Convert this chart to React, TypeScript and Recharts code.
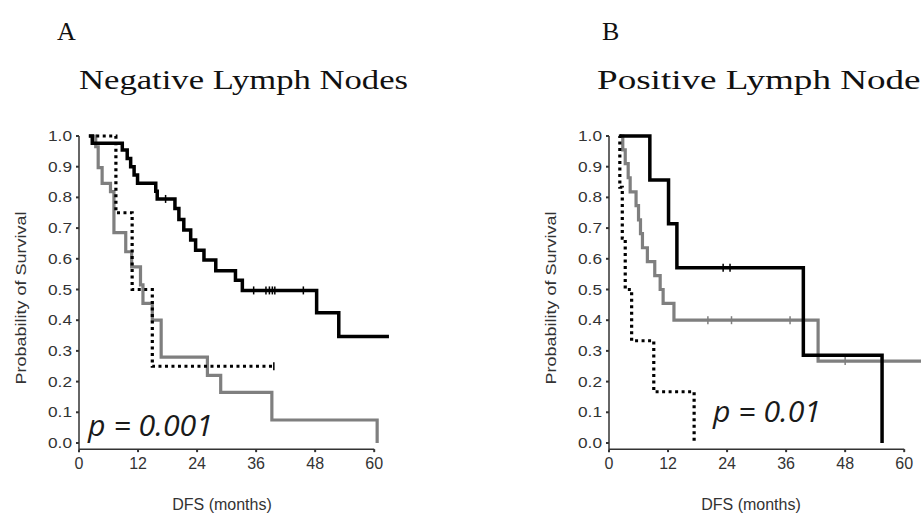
import React from "react";
import {
  ComposedChart,
  Line,
  Scatter,
  XAxis,
  YAxis,
  ReferenceLine,
} from "recharts";

type Pt = [number, number];

// Kaplan-Meier steps: [month, survival]
// Panel A - negative lymph nodes
const negBlack: Pt[] = [
  [2.0, 1.0], [2.7, 0.976], [8.8, 0.954], [9.8, 0.927], [10.5, 0.9], [11.2, 0.873],
  [11.9, 0.846], [15.6, 0.82], [15.9, 0.795], [19.5, 0.764], [20.3, 0.728], [21.3, 0.694],
  [22.7, 0.661], [23.7, 0.628], [25.4, 0.596], [27.8, 0.561], [31.8, 0.53], [33.2, 0.497],
  [48.3, 0.424], [52.8, 0.347], [63.0, 0.347],
];
const negBlackCensor: Pt[] = [
  [17.6, 0.795], [35.5, 0.497], [38.0, 0.497], [38.7, 0.497], [39.3, 0.497], [39.8, 0.497], [45.6, 0.497],
];
const negGray: Pt[] = [
  [2.0, 1.0], [3.4, 0.965], [3.9, 0.897], [4.7, 0.846], [6.4, 0.819], [7.1, 0.685],
  [9.5, 0.623], [10.7, 0.574], [12.5, 0.515], [13.0, 0.455], [14.9, 0.4], [16.7, 0.28],
  [26.1, 0.22], [28.8, 0.165], [39.2, 0.075], [60.6, 0],
];
const negDotted: Pt[] = [
  [3.5, 1.0], [7.5, 0.75], [10.8, 0.5], [14.9, 0.25], [39.6, 0.25],
];
const negDottedCensor: Pt[] = [[39.6, 0.25]];

// Panel B - positive lymph nodes
const posBlack: Pt[] = [
  [2.2, 1.0], [8.3, 0.857], [12.1, 0.714], [13.8, 0.571], [39.5, 0.286], [55.5, 0],
];
const posBlackCensor: Pt[] = [[23.2, 0.571], [24.6, 0.571]];
const posGray: Pt[] = [
  [2.2, 1.0], [2.8, 0.955], [3.3, 0.91], [3.9, 0.864], [4.3, 0.818], [5.5, 0.773],
  [6.0, 0.727], [6.4, 0.682], [6.8, 0.636], [7.8, 0.591], [9.3, 0.545], [10.4, 0.5],
  [11.0, 0.455], [13.2, 0.4], [42.5, 0.267], [64.0, 0.267],
];
const posGrayCensor: Pt[] = [[20.1, 0.4], [24.9, 0.4], [36.8, 0.4], [48.0, 0.267]];
const posDotted: Pt[] = [
  [2.0, 1.0], [2.2, 0.833], [2.7, 0.667], [3.3, 0.5], [4.6, 0.333], [9.1, 0.167], [17.3, 0],
];

const monthTicks = [0, 12, 24, 36, 48, 60];
const survTicks = [0, 0.1, 0.2, 0.3, 0.4, 0.5, 0.6, 0.7, 0.8, 0.9, 1.0];

const BLACK = "#000000";
const GRAY = "#7f7f7f";
const AXIS = "#333333";
const SANS = "'Liberation Sans', Arial, sans-serif";
const SERIF = "'Liberation Serif', 'Times New Roman', serif";

const PX_PER_MONTH = 4.92;
const PX_PER_UNIT = 307;
const Y_MIN = -0.02;
const PLOT_TOP = 136;
const CHART_W = 400;
const CHART_H = 515;

const rows = (pts: Pt[]) => pts.map(([t, s]) => ({ t, s }));

const censorShape = (color: string) => (props: any) => {
  const { cx, cy } = props;
  return <line x1={cx} x2={cx} y1={cy - 4} y2={cy + 4} stroke={color} strokeWidth={1.5} />;
};

const YTick = (props: any) => {
  const { x, y, payload } = props;
  return (
    <text x={x} y={y} dy="0.36em" textAnchor="end" fontFamily={SANS} fontSize={14} fill={AXIS}
      textLength={24} lengthAdjust="spacingAndGlyphs">
      {Number(payload.value).toFixed(1)}
    </text>
  );
};

interface PanelProps {
  left: number;
  maxMonth: number;
  black: Pt[];
  gray: Pt[];
  dotted: Pt[];
  blackCensor: Pt[];
  grayCensor: Pt[];
  dottedCensor: Pt[];
}

function Panel({ left, maxMonth, black, gray, dotted, blackCensor, grayCensor, dottedCensor }: PanelProps) {
  const plotW = maxMonth * PX_PER_MONTH;
  const plotH = (1 - Y_MIN) * PX_PER_UNIT;
  const yAxisW = 79;
  const xAxisH = 30;
  const margin = {
    top: PLOT_TOP,
    left: 0,
    right: CHART_W - yAxisW - plotW,
    bottom: CHART_H - PLOT_TOP - plotH - xAxisH,
  };
  return (
    <div style={{ position: "absolute", left: left, top: 0 }}>
      <ComposedChart width={CHART_W} height={CHART_H} margin={margin}>
        <XAxis
          type="number"
          dataKey="t"
          domain={[0, maxMonth]}
          ticks={monthTicks}
          height={xAxisH}
          axisLine={false}
          tickLine={{ stroke: AXIS, strokeWidth: 2 }}
          tickSize={3}
          tickMargin={5}
          tick={{ fontSize: 16, fontFamily: SANS, fill: AXIS }}
        />
        <YAxis
          type="number"
          dataKey="s"
          domain={[Y_MIN, 1]}
          ticks={survTicks}
          width={yAxisW}
          axisLine={{ stroke: AXIS, strokeWidth: 1.5 }}
          tickLine={{ stroke: AXIS, strokeWidth: 2 }}
          tickSize={3}
          tickMargin={4}
          tick={<YTick />}
        />
        <ReferenceLine
          segment={[{ x: 0, y: Y_MIN }, { x: 60, y: Y_MIN }]}
          stroke={AXIS}
          strokeWidth={1.5}
        />
        <Line data={rows(gray)} dataKey="s" type="stepAfter" stroke={GRAY} strokeWidth={3.2}
          dot={false} isAnimationActive={false} />
        <Line data={rows(dotted)} dataKey="s" type="stepAfter" stroke={BLACK} strokeWidth={3.2}
          strokeDasharray="3 3.5" dot={false} isAnimationActive={false} />
        <Line data={rows(black)} dataKey="s" type="stepAfter" stroke={BLACK} strokeWidth={3.5}
          dot={false} isAnimationActive={false} />
        <Scatter data={rows(blackCensor)} dataKey="s" shape={censorShape(BLACK)} isAnimationActive={false} />
        <Scatter data={rows(grayCensor)} dataKey="s" shape={censorShape(GRAY)} isAnimationActive={false} />
        <Scatter data={rows(dottedCensor)} dataKey="s" shape={censorShape(BLACK)} isAnimationActive={false} />
      </ComposedChart>
    </div>
  );
}

export default function App() {
  return (
    <div style={{ position: "absolute", left: 0, top: 0, width: 921, height: 515, overflow: "hidden", background: "#fff" }}>
      <Panel left={0} maxMonth={63} black={negBlack} gray={negGray} dotted={negDotted}
        blackCensor={negBlackCensor} grayCensor={[]} dottedCensor={negDottedCensor} />
      <Panel left={530} maxMonth={64} black={posBlack} gray={posGray} dotted={posDotted}
        blackCensor={posBlackCensor} grayCensor={posGrayCensor} dottedCensor={[]} />
      <svg width={921} height={515} style={{ position: "absolute", left: 0, top: 0, pointerEvents: "none" }}>
        <text x={57} y={40} fontFamily={SERIF} fontSize={26} fill="#111">A</text>
        <text x={602} y={40} fontFamily={SERIF} fontSize={26} fill="#111">B</text>
        <text x={79} y={89} fontFamily={SERIF} fontSize={28} fill="#111"
          textLength={329} lengthAdjust="spacingAndGlyphs">Negative Lymph Nodes</text>
        <text x={597} y={89} fontFamily={SERIF} fontSize={28} fill="#111"
          textLength={338} lengthAdjust="spacingAndGlyphs">Positive Lymph Nodes</text>
        <text x={21} y={298} transform="rotate(-90 21 298)" dy="0.35em" textAnchor="middle"
          fontFamily={SANS} fontSize={14} fill={AXIS} textLength={173} lengthAdjust="spacingAndGlyphs">
          Probability of Survival
        </text>
        <text x={551} y={298} transform="rotate(-90 551 298)" dy="0.35em" textAnchor="middle"
          fontFamily={SANS} fontSize={14} fill={AXIS} textLength={173} lengthAdjust="spacingAndGlyphs">
          Probability of Survival
        </text>
        <text x={222} y={510} textAnchor="middle" fontFamily={SANS} fontSize={16} fill={AXIS}>DFS (months)</text>
        <text x={751} y={510} textAnchor="middle" fontFamily={SANS} fontSize={16} fill={AXIS}>DFS (months)</text>
        <text x={88} y={436} fontFamily="'Open Sans', sans-serif" fontStyle="italic" fontSize={29} fill="#1a1a1a"
          textLength={125} lengthAdjust="spacingAndGlyphs">p = 0.001</text>
        <text x={713} y={421.5} fontFamily="'Open Sans', sans-serif" fontStyle="italic" fontSize={29} fill="#1a1a1a"
          textLength={108} lengthAdjust="spacingAndGlyphs">p = 0.01</text>
      </svg>
    </div>
  );
}
